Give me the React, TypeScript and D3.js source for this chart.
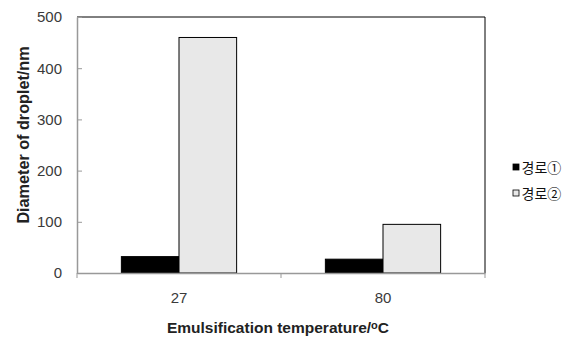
import { useEffect, useRef } from 'react';
import * as d3 from 'd3';

const categories = ['27', '80'];
const seriesNames = ['경로①', '경로②'];
const route1 = [32, 27];
const route2 = [460, 95];
const yTicks = [0, 100, 200, 300, 400, 500];

const colors = ['#000000', '#e8e8e8'];

const App = () => {
  const svgRef = useRef<SVGSVGElement>(null);

  useEffect(() => {
    document.body.style.margin = '0';

    const width = 580;
    const height = 338;
    const margin = { top: 17, right: 95, bottom: 65, left: 77 };

    const svg = d3.select(svgRef.current);
    svg.selectAll('*').remove();

    const x = d3
      .scaleBand()
      .domain(categories)
      .range([margin.left, width - margin.right])
      .paddingInner(0)
      .paddingOuter(0);

    const x1 = d3
      .scaleBand()
      .domain(seriesNames)
      .range([0, x.bandwidth()])
      .paddingInner(0)
      .paddingOuter(0.77);

    const y = d3
      .scaleLinear()
      .domain([0, 500])
      .range([height - margin.bottom, margin.top]);

    const font = 'Liberation Sans, Arial, sans-serif';

    // 上方和右方的黑色框線
    svg
      .append('path')
      .attr('d', `M${margin.left},${margin.top}H${width - margin.right}V${height - margin.bottom}`)
      .attr('fill', 'none')
      .attr('stroke', '#000')
      .attr('stroke-width', 1);

    // 長條
    const series = [route1, route2];
    categories.forEach((cat, ci) => {
      seriesNames.forEach((name, si) => {
        const v = series[si][ci];
        svg
          .append('rect')
          .attr('x', (x(cat) ?? 0) + (x1(name) ?? 0))
          .attr('y', y(v))
          .attr('width', x1.bandwidth())
          .attr('height', y(0) - y(v))
          .attr('fill', colors[si])
          .attr('stroke', '#000')
          .attr('stroke-width', 1);
      });
    });

    // Y 軸
    const yAxis = svg
      .append('g')
      .attr('transform', `translate(${margin.left},0)`)
      .call(d3.axisLeft(y).tickValues(yTicks).tickSize(5).tickSizeOuter(0).tickPadding(10));
    yAxis.select('.domain').attr('stroke', '#999').attr('stroke-width', 1.5);
    yAxis.selectAll('.tick line').attr('stroke', '#999').attr('x2', 5);
    yAxis
      .selectAll('.tick text')
      .attr('fill', '#3a3a3a')
      .style('font-family', font)
      .style('font-size', '15px');

    // X 軸
    const xAxis = svg
      .append('g')
      .attr('transform', `translate(0,${height - margin.bottom})`)
      .call(d3.axisBottom(x).tickSize(0).tickPadding(19));
    xAxis.select('.domain').attr('stroke', '#999').attr('stroke-width', 1.5);
    xAxis
      .selectAll('.tick text')
      .attr('fill', '#3a3a3a')
      .style('font-family', font)
      .style('font-size', '15px');
    // 類別之間的刻度
    const boundaries = [x.range()[0], ...categories.map((c) => (x(c) ?? 0) + x.bandwidth())];
    xAxis
      .selectAll('.sep')
      .data(boundaries)
      .join('line')
      .attr('x1', (d) => d)
      .attr('x2', (d) => d)
      .attr('y1', 0)
      .attr('y2', 5)
      .attr('stroke', '#999');

    // 軸標題
    svg
      .append('text')
      .attr('transform', `translate(29,135) rotate(-90)`)
      .attr('text-anchor', 'middle')
      .style('font-family', font)
      .style('font-size', '16.2px')
      .style('font-weight', 'bold')
      .attr('fill', '#222')
      .text('Diameter of droplet/nm');

    const xt = svg
      .append('text')
      .attr('x', 278)
      .attr('y', 333)
      .attr('text-anchor', 'middle')
      .style('font-family', font)
      .style('font-size', '15.5px')
      .style('font-weight', 'bold')
      .attr('fill', '#222');
    xt.append('tspan').text('Emulsification  temperature/');
    xt.append('tspan').attr('font-size', '11px').attr('dy', -4).text('o');
    xt.append('tspan').attr('dy', 4).text('C');

    // 圖例
    const legend = svg
      .append('g')
      .selectAll('g')
      .data(seriesNames)
      .join('g')
      .attr('transform', (d, i) => `translate(513,${167 + i * 26})`);
    legend
      .append('rect')
      .attr('x', 0)
      .attr('y', -3)
      .attr('width', 6)
      .attr('height', 6)
      .attr('fill', (d, i) => colors[i])
      .attr('stroke', '#000')
      .attr('stroke-width', 0.8);
    legend
      .append('text')
      .attr('x', 8.5)
      .attr('y', 5.5)
      .style('font-family', 'Noto Sans CJK KR, sans-serif')
      .style('font-size', '14px')
      .attr('fill', '#111')
      .text((d) => d);
  }, []);

  return (
    <div>
      <svg ref={svgRef} width={580} height={338} style={{ display: 'block' }}></svg>
    </div>
  );
};

export default App;
